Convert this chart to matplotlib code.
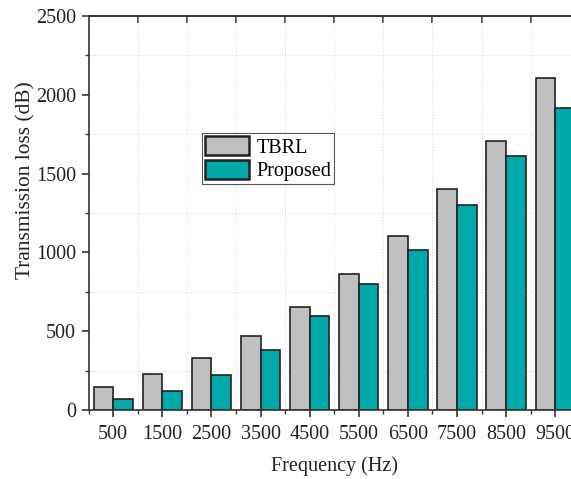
import numpy as np
import matplotlib.pyplot as plt
from matplotlib.ticker import MultipleLocator, FixedLocator, NullFormatter

plt.rcParams['font.family'] = ['Liberation Serif', 'DejaVu Serif']

freqs = [500, 1500, 2500, 3500, 4500, 5500, 6500, 7500, 8500, 9500]
tbrl = [148, 228, 332, 470, 656, 863, 1106, 1400, 1705, 2109]
proposed = [68, 123, 224, 383, 596, 797, 1015, 1301, 1614, 1918]

fig = plt.figure(figsize=(5.71, 4.79), dpi=100)
# axes run past the right edge, as in the cropped reference
ax = fig.add_axes([0.1553, 0.1441, 0.860, 0.8225])

x = np.array(freqs)
w = 400
ax.bar(x - w / 2, tbrl, width=w, color='#c0c0c0', edgecolor='#222222',
       linewidth=1.2, label='TBRL')
ax.bar(x + w / 2, proposed, width=w, color='#00a8a8', edgecolor='#222222',
       linewidth=1.2, label='Proposed')

ax.set_xlim(0, 10000)
ax.set_ylim(0, 2500)

ax.set_xticks(freqs)
ax.set_xticklabels([str(f) for f in freqs])
ax.xaxis.set_minor_locator(MultipleLocator(1000))
ax.yaxis.set_major_locator(MultipleLocator(500))
ax.yaxis.set_minor_locator(MultipleLocator(250))

ax.tick_params(axis='both', which='major', direction='out', length=5,
               width=1.2, labelsize=14.5, colors='#333333', pad=4)
ax.tick_params(axis='x', which='major', pad=6)
ax.tick_params(axis='both', which='minor', direction='out', length=3,
               width=1.0, colors='#333333')
ax.tick_params(labelcolor='#222222')

ax.grid(which='minor', linestyle=(0, (1, 2)), color='#d4d4d4', linewidth=0.7)
ax.set_axisbelow(True)

for s in ['left', 'bottom', 'top']:
    ax.spines[s].set_linewidth(1.2)
    ax.spines[s].set_color('#333333')
ax.spines['right'].set_visible(False)

top = ax.secondary_xaxis('top')
top.xaxis.set_major_locator(FixedLocator(range(1000, 10000, 1000)))
top.xaxis.set_major_formatter(NullFormatter())
top.tick_params(direction='in', length=5, width=1.2, colors='#333333')
top.spines['top'].set_linewidth(1.2)
top.spines['top'].set_color('#333333')

ax.set_xlabel('Frequency (Hz)', fontsize=14.5, labelpad=9, color='#222222')
ax.set_ylabel('Transmission loss (dB)', fontsize=15.4, color='#222222')
ax.yaxis.set_label_coords(-0.109, 0.584)

leg = ax.legend(loc='upper left', bbox_to_anchor=(202 / 571, 1 - 133 / 479),
                bbox_transform=fig.transFigure, borderaxespad=0,
                fontsize=14.5, handlelength=2.2, handleheight=1.1,
                labelspacing=0.1, handletextpad=0.35, borderpad=0.15,
                fancybox=False, framealpha=1)
leg.get_frame().set_edgecolor('#555555')
leg.get_frame().set_linewidth(0.8)
for p in leg.get_patches():
    p.set_linewidth(1.8)

fig.savefig('out.png', dpi=100)
